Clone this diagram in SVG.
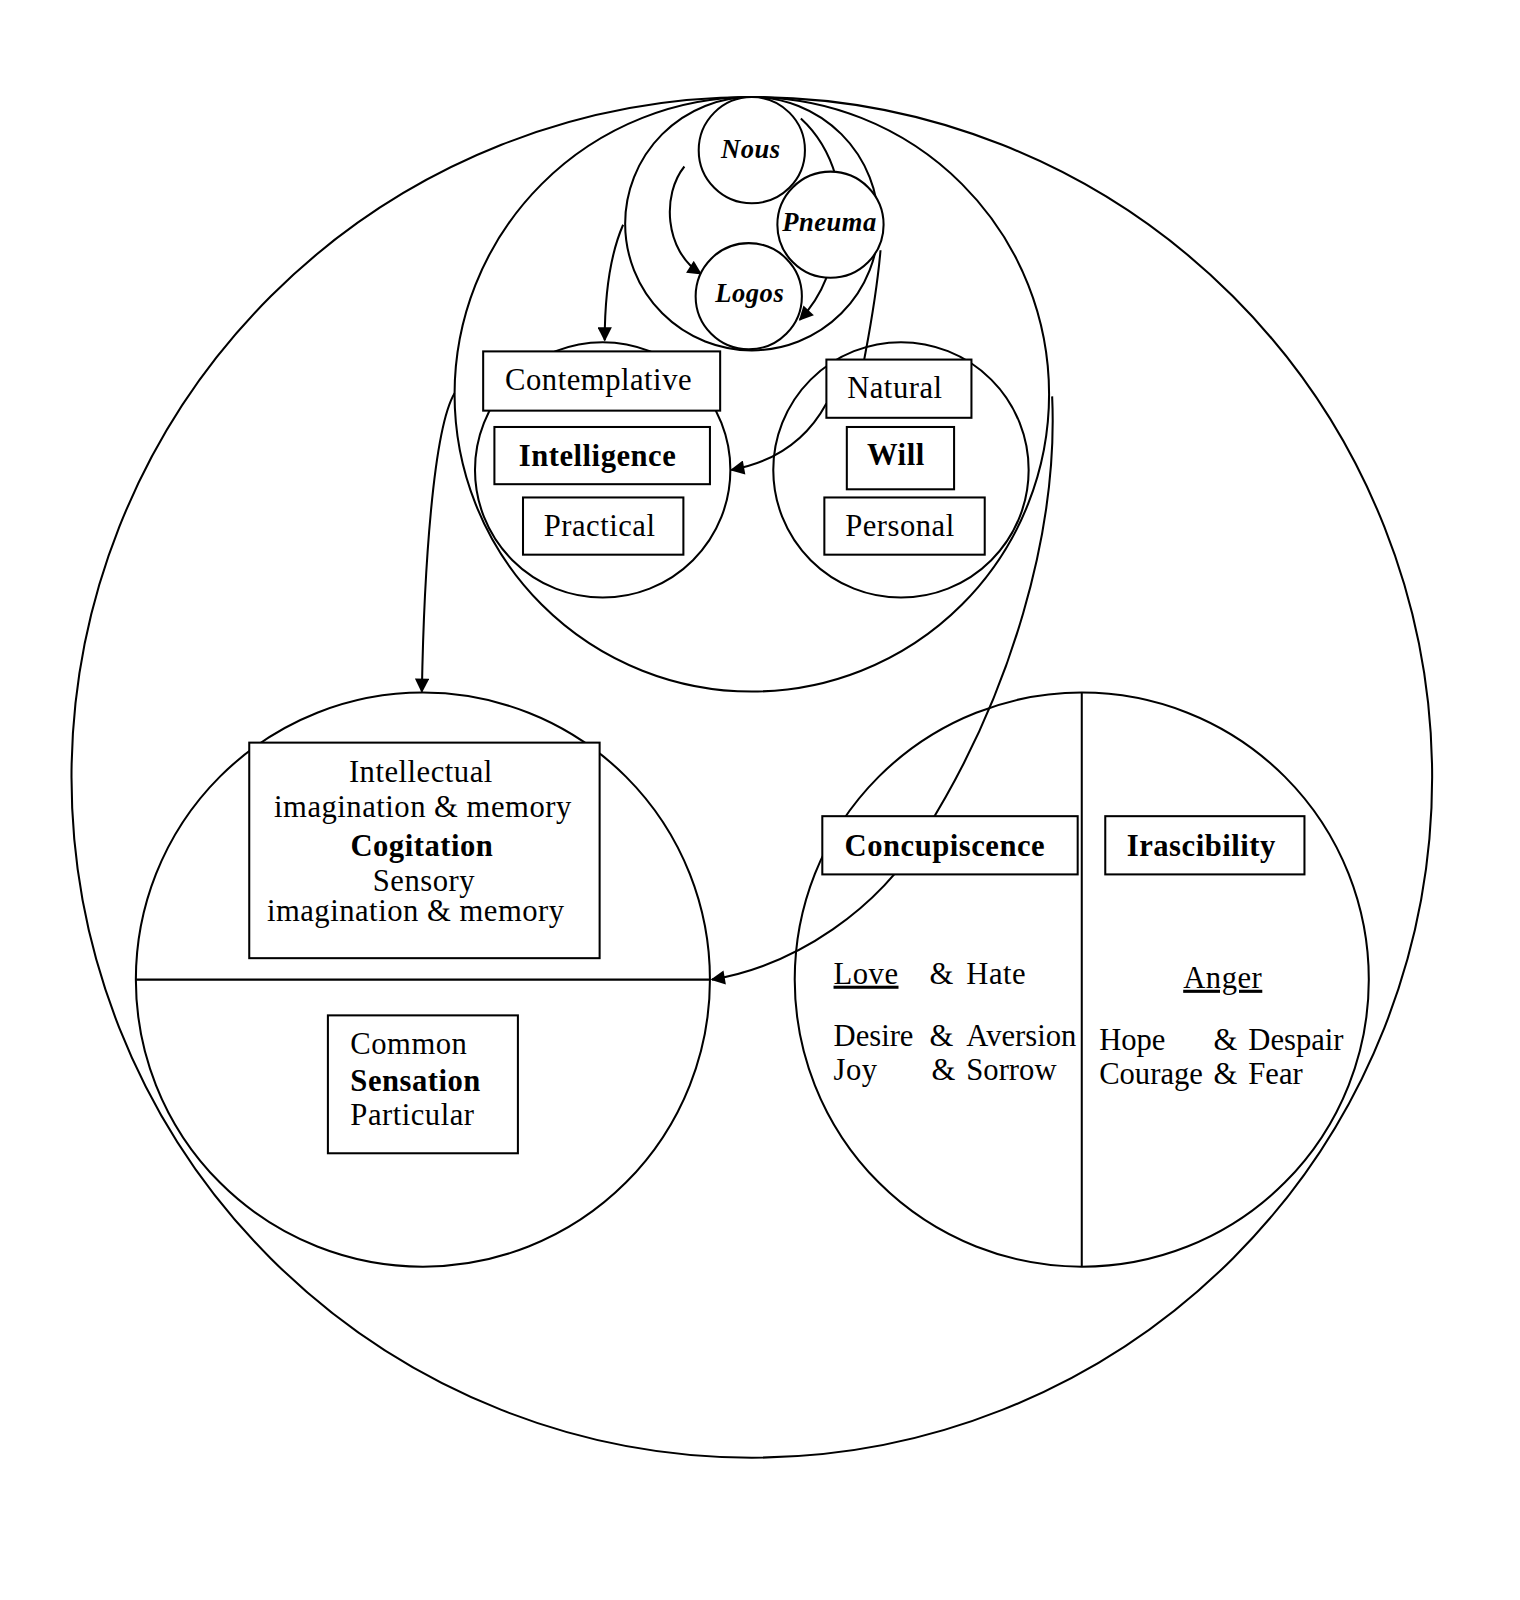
<svg xmlns="http://www.w3.org/2000/svg" width="1520" height="1600" viewBox="0 0 1520 1600">
<style>
.c{fill:none;stroke:#000;stroke-width:2}
.b{fill:#fff;stroke:#000;stroke-width:2}
.l{fill:none;stroke:#000;stroke-width:2}
text{font-family:"Liberation Serif","Times New Roman",serif;font-size:30px;fill:#000;letter-spacing:0.5px}
.m{text-anchor:middle}
.bd{font-weight:bold}
.gi{font-weight:bold;font-style:italic;font-size:26px;text-anchor:middle}
.u{text-decoration:underline}
.t{letter-spacing:0px}
</style>
<defs>
<marker id="ah" viewBox="0 0 10 10" refX="9" refY="5" markerWidth="16" markerHeight="14" markerUnits="userSpaceOnUse" orient="auto">
<path d="M0,0 L10,5 L0,10 z" fill="#000"/>
</marker>
</defs>
<rect width="1520" height="1600" fill="#fff"/>
<g transform="scale(1.0215)">
<g id="soul"><circle class="c" cx="736" cy="761" r="666"/></g>
<g id="upper"><circle class="c" cx="736" cy="386" r="291"/></g>
<g id="topcircle"><circle class="c" cx="736" cy="219" r="124"/></g>
<g id="cogsens"><circle class="c" cx="414" cy="959" r="281"/><line class="l" x1="133" y1="959" x2="695" y2="959"/></g>
<g id="passions"><circle class="c" cx="1059" cy="959" r="281"/><line class="l" x1="1059" y1="678" x2="1059" y2="1240"/></g>
<g id="intelligence-circle"><circle class="c" cx="590" cy="460" r="125"/></g>
<g id="will-circle"><circle class="c" cx="882" cy="460" r="125"/></g>
<g id="connectors">
<path class="l" d="M670,163 C648,190 650,245 686,268" marker-end="url(#ah)"/>
<path class="l" d="M809,272 Q800,295 783,313" marker-end="url(#ah)"/>
<path class="l" d="M784,116 Q808,138 818,172"/>
<path class="l" d="M610,220 C597,250 592,290 592,333" marker-end="url(#ah)"/>
<path class="l" d="M445,385 C424,420 415,560 413,677" marker-end="url(#ah)"/>
<path class="l" d="M809,395 C790,430 760,452 716,460" marker-end="url(#ah)"/>
<path class="l" d="M862,245 C858,290 852,320 846,352"/>
<path class="l" d="M1030,388 C1036,520 990,680 905,815 C860,890 780,945 697,959" marker-end="url(#ah)"/>
</g>
<g id="nous"><circle class="b" cx="736" cy="147" r="52"/><text class="gi" x="735" y="155">Nous</text></g>
<g id="pneuma"><circle class="b" cx="813" cy="220" r="52"/><text class="gi" x="812" y="226">Pneuma</text></g>
<g id="logos"><circle class="b" cx="733" cy="290" r="52"/><text class="gi" x="734" y="296">Logos</text></g>
<g id="contemplative"><rect class="b" x="473" y="344" width="232" height="58"/><text class="m" x="586" y="382">Contemplative</text></g>
<g id="intelligence"><rect class="b" x="484" y="418" width="211" height="56"/><text class="m bd" x="585" y="456">Intelligence</text></g>
<g id="practical"><rect class="b" x="512" y="487" width="157" height="56"/><text class="m" x="587" y="525">Practical</text></g>
<g id="natural"><rect class="b" x="809" y="352" width="142" height="57"/><text class="m" x="876" y="390">Natural</text></g>
<g id="will"><rect class="b" x="829" y="418" width="105" height="61"/><text class="m bd" x="877" y="455">Will</text></g>
<g id="personal"><rect class="b" x="807" y="487" width="157" height="56"/><text class="m" x="881" y="525">Personal</text></g>
<g id="cogitation"><rect class="b" x="244" y="727" width="343" height="211"/>
<text class="m" x="412" y="766">Intellectual</text>
<text class="m" x="414" y="800">imagination &amp; memory</text>
<text class="m bd" x="413" y="838">Cogitation</text>
<text class="m" x="415" y="872">Sensory</text>
<text class="m" x="407" y="902">imagination &amp; memory</text></g>
<g id="sensation"><rect class="b" x="321" y="994" width="186" height="135"/>
<text x="343" y="1032">Common</text>
<text class="bd" x="343" y="1068">Sensation</text>
<text x="343" y="1101">Particular</text></g>
<g id="concupiscence"><rect class="b" x="805" y="799" width="250" height="57"/><text class="m bd" x="925" y="838">Concupiscence</text></g>
<g id="irascibility"><rect class="b" x="1082" y="799" width="195" height="57"/><text class="m bd" x="1176" y="838">Irascibility</text></g>
<g id="concupiscence-passions">
<text class="u" x="816" y="963">Love</text><text x="910" y="963">&amp;</text><text x="946" y="963">Hate</text>
<text class="t" x="816" y="1024">Desire</text><text x="910" y="1024">&amp;</text><text class="t" x="946" y="1024">Aversion</text>
<text x="816" y="1057">Joy</text><text x="912" y="1057">&amp;</text><text class="t" x="946" y="1057">Sorrow</text>
</g>
<g id="irascibility-passions">
<text class="u m" x="1197" y="967">Anger</text>
<text class="t" x="1076" y="1028">Hope</text><text x="1188" y="1028">&amp;</text><text class="t" x="1222" y="1028">Despair</text>
<text class="t" x="1076" y="1061">Courage</text><text x="1188" y="1061">&amp;</text><text class="t" x="1222" y="1061">Fear</text>
</g>
</g>
</svg>
